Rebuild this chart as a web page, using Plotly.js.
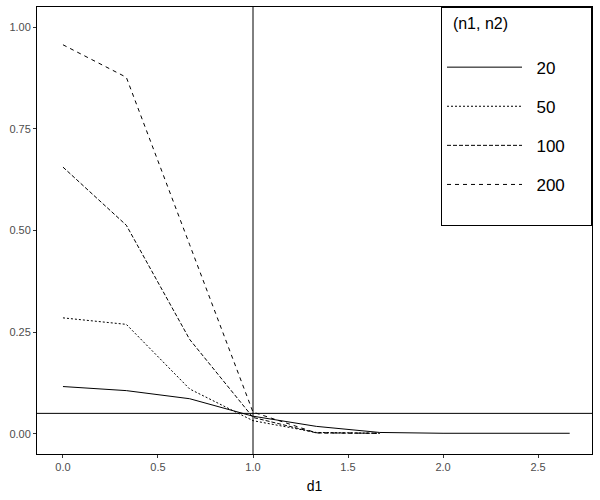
<!DOCTYPE html>
<html>
<head>
<meta charset="utf-8">
<script src="https://cdn.plot.ly/plotly-3.0.1.min.js"></script>
<style>
  body { margin: 0; background: #fff; }
  #plot { width: 600px; height: 500px; }
</style>
</head>
<body>
<div id="plot"></div>
<script>
// d1 grid and rejection rates per (n1, n2)
var d1 = [0, 1/3, 2/3, 1, 4/3, 5/3, 2, 7/3, 8/3];
var d1Short = [0, 1/3, 2/3, 1, 4/3, 5/3];
var n20 = [0.116, 0.106, 0.086, 0.043, 0.018, 0.003, 0.001, 0.001, 0.001];
var n50 = [0.285, 0.269, 0.110, 0.032, 0.003, 0.001];
var n100 = [0.656, 0.513, 0.232, 0.040, 0.002, 0.001];
var n200 = [0.957, 0.877, 0.465, 0.053, 0.002, 0.001];
var seriesNames = ['20', '50', '100', '200'];
var legendTitle = '(n1, n2)';

// reference lines
var refX = 1;
var refY = 0.05;

var dashes = ['solid', '2px,2px', '4px,2px', '4px,4px'];
var xs = [d1, d1Short, d1Short, d1Short];
var ys = [n20, n50, n100, n200];

var pad = function(n) { return new Array(n + 1).join('&nbsp;'); };

var traces = ys.map(function(y, i) {
    return {
        x: xs[i],
        y: y,
        type: 'scatter',
        mode: 'lines',
        // a little room between the line sample and the label, extra blank line under the last one
        name: pad(2) + seriesNames[i] + (i === ys.length - 1 ? '<br> ' : ''),
        legendgroup: 'g' + i,
        line: { color: '#000', width: 1, dash: dashes[i] }
    };
});

var layout = {
    width: 600,
    height: 500,
    font: { family: 'Liberation Sans, Arial, sans-serif', color: '#000' },
    paper_bgcolor: '#fff',
    plot_bgcolor: '#fff',
    margin: { l: 37, r: 8, t: 7, b: 46 },
    showlegend: true,
    xaxis: {
        range: [-0.1367, 2.784],
        tickvals: [0, 0.5, 1, 1.5, 2, 2.5],
        tickformat: '.1f',
        ticks: 'outside',
        ticklen: 3,
        tickcolor: '#333',
        tickfont: { size: 11, color: '#4d4d4d' },
        showgrid: false,
        zeroline: false,
        showline: true,
        mirror: true,
        linecolor: '#000',
        linewidth: 1,
        title: { text: 'd1', font: { size: 14, color: '#000' }, standoff: 8 }
    },
    yaxis: {
        range: [-0.05, 1.05],
        tickvals: [0, 0.25, 0.5, 0.75, 1],
        tickformat: '.2f',
        ticks: 'outside',
        ticklen: 3,
        tickcolor: '#333',
        tickfont: { size: 11, color: '#4d4d4d' },
        showgrid: false,
        zeroline: false,
        showline: true,
        mirror: true,
        linecolor: '#000',
        linewidth: 1
    },
    legend: {
        x: 1,
        y: 1,
        xanchor: 'right',
        yanchor: 'top',
        bordercolor: '#000',
        borderwidth: 1,
        bgcolor: '#fff',
        tracegroupgap: 14,
        itemwidth: 75,
        valign: 'top',
        font: { size: 17 },
        title: { text: pad(2) + legendTitle + pad(18) + '<br> ', font: { size: 16 } }
    },
    shapes: [
        { type: 'line', xref: 'x', yref: 'paper', x0: refX, x1: refX, y0: 0, y1: 1,
          line: { color: '#000', width: 1 } },
        { type: 'line', xref: 'paper', yref: 'y', x0: 0, x1: 1, y0: refY, y1: refY,
          line: { color: '#000', width: 1 } }
    ]
};

Plotly.newPlot('plot', traces, layout, { displayModeBar: false, staticPlot: true });
</script>
</body>
</html>
